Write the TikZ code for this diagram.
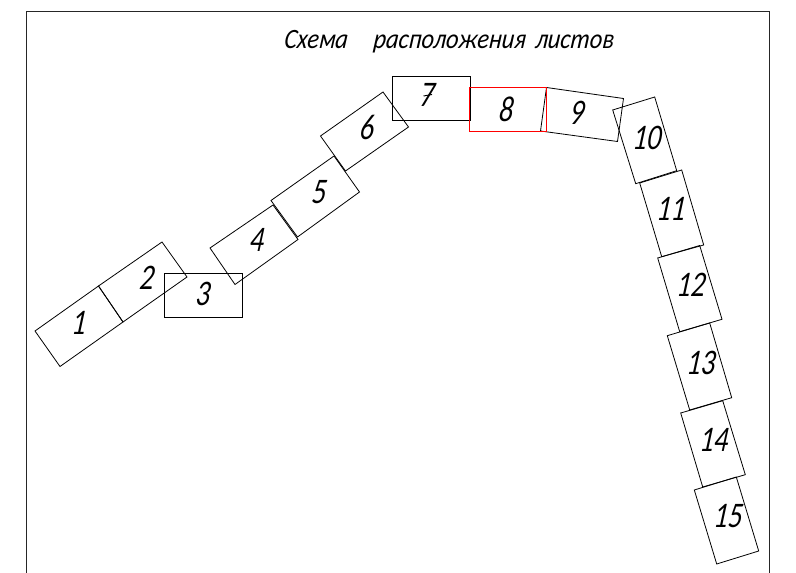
\documentclass[tikz,border=0pt]{standalone}
\usepackage{fontspec}
\setmainfont{Carlito}
\newfontfamily\cadfont[FakeStretch=0.87,FakeSlant=0.12]{Carlito Italic}
\newfontfamily\numfont[FakeStretch=0.78,FakeSlant=0.12]{Carlito Italic}
\tikzset{
  sheet/.style={draw=black,line width=0.6pt,line join=miter},
  redsheet/.style={draw=red,line width=0.7pt},
  frameline/.style={draw=black!85,line width=0.75pt},
  num/.style={inner sep=0pt,font=\numfont\fontsize{27}{27}\selectfont},
  ttl/.style={inner sep=0pt,font=\cadfont\fontsize{21}{21}\selectfont}
}
\begin{document}
\begin{tikzpicture}[x=0.75pt,y=-0.75pt]
\useasboundingbox (0,0) rectangle (796,573);
\draw[frameline] (26.5,573) -- (26.5,11.5) -- (769,11.5) -- (769,573);
% sheets
\draw[sheet] (35,331) -- (60,366.5) -- (123,322) -- (98.5,286) -- cycle;
\draw[sheet] (98.5,286) -- (123,322) -- (187,277) -- (162,242) -- cycle;
\draw[sheet] (164,273) -- (242,273) -- (242,317.5) -- (164,317.5) -- cycle;
\draw[sheet] (210,248) -- (235,284.5) -- (298,239.5) -- (273,205) -- cycle;
\draw[sheet] (271,200.5) -- (297.5,237) -- (359.5,192) -- (334,156) -- cycle;
\draw[sheet] (320.5,136) -- (345.5,171) -- (408.5,127) -- (383,92) -- cycle;
\draw[sheet] (392,76) -- (470,76) -- (470,120) -- (392,120) -- cycle;
\draw[sheet] (546.5,87.5) -- (623.5,98.5) -- (617.5,141.5) -- (540.5,131) -- cycle;
\draw[redsheet] (469.5,87.5) -- (546.5,87.5) -- (546.5,131.5) -- (469.5,131.5) -- cycle;
\draw[sheet] (612.7,110) -- (654.7,97) -- (676.7,170.7) -- (635.7,183.7) -- cycle;
\draw[sheet] (639.7,183) -- (681.7,170) -- (703.7,245) -- (661.7,256.7) -- cycle;
\draw[sheet] (657.7,258) -- (699.7,245.5) -- (722,319.3) -- (679.7,331.7) -- cycle;
\draw[sheet] (667.3,335.7) -- (709.7,323) -- (731.7,397.7) -- (689.7,410) -- cycle;
\draw[sheet] (680.7,413) -- (722.7,400.7) -- (745.3,474.7) -- (702.7,487) -- cycle;
\draw[sheet] (694.3,490) -- (736.3,477) -- (758.7,551) -- (716.7,564) -- cycle;
% labels
\node[ttl] (title) at (448.5,42) {Схема\hspace{0.72em} расположения\hspace{0.15em} листов};
\node[num] (n1) at (78,323) {1};
\node[num] (n2) at (146,278) {2};
\node[num] (n3) at (202,294) {3};
\node[num] (n4) at (256,240) {4};
\node[num] (n5) at (318,192) {5};
\node[num] (n6) at (366,127) {6};
\node[num] (n7) at (426,95) {7};
\draw[line width=0.7pt] (423.5,96) -- (432,94.5);
\node[num] (n8) at (505,109) {8};
\node[num] (n9) at (576,113) {9};
\node[num] (n10) at (646,138) {10};
\node[num] (n11) at (670,209) {11};
\node[num] (n12) at (690,285) {12};
\node[num] (n13) at (700,363) {13};
\node[num] (n14) at (713,440) {14};
\node[num] (n15) at (727,516) {15};
\end{tikzpicture}
\end{document}
